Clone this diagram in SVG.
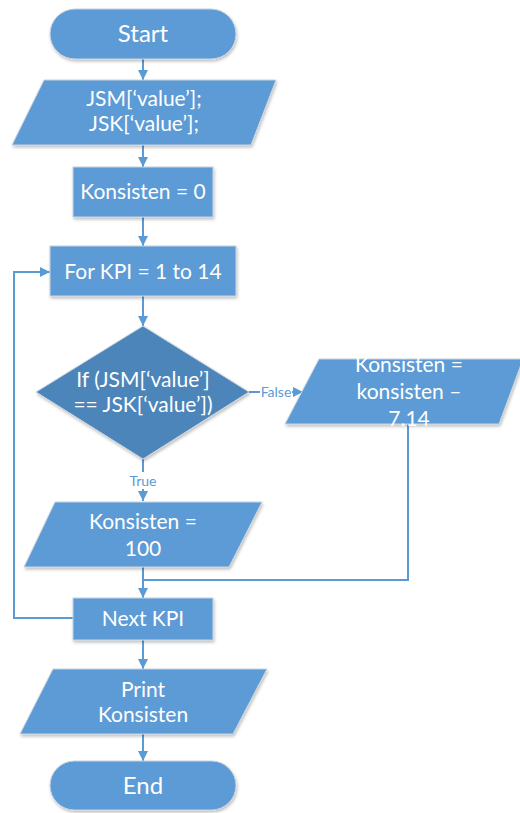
<svg xmlns="http://www.w3.org/2000/svg" width="520" height="813" viewBox="0 0 520 813">
<defs>
<filter id="sh" x="-10%" y="-10%" width="130%" height="140%">
<feDropShadow dx="1" dy="2" stdDeviation="1.5" flood-color="#000" flood-opacity="0.25"/>
</filter>
<marker id="ah" viewBox="0 0 10 10" refX="10" refY="5" markerWidth="10" markerHeight="10" markerUnits="userSpaceOnUse" orient="auto">
<path d="M0,0 L10,5 L0,10 Z" fill="#5b9bd5"/>
</marker>
</defs>
<style>
.s{fill:#5b9bd5;stroke:#c8d3de;stroke-width:1;filter:url(#sh)}
.d{fill:#4c85ba;stroke:#c8d3de;stroke-width:1;filter:url(#sh)}
.t{font-family:Lato,"Open Sans",sans-serif;font-size:21px;fill:#fff;text-anchor:middle}
.big{font-size:24px}
.c{fill:none;stroke:#5b9bd5;stroke-width:2}
.ca{fill:none;stroke:#5b9bd5;stroke-width:2;marker-end:url(#ah)}
.l{font-family:Lato,"Open Sans",sans-serif;font-size:14px;fill:#5b9bd5;text-anchor:middle}
</style>
<rect width="520" height="813" fill="#fff"/>
<g id="connectors">
<line class="ca" x1="143" y1="59" x2="143" y2="80"/>
<line class="ca" x1="143" y1="145" x2="143" y2="167"/>
<line class="ca" x1="143" y1="217" x2="143" y2="246"/>
<line class="ca" x1="143" y1="296" x2="143" y2="326"/>
<line class="c" x1="143" y1="459" x2="143" y2="472"/>
<line class="ca" x1="143" y1="489" x2="143" y2="501"/>
<text class="l" x="143" y="486">True</text>
<line class="c" x1="249" y1="392" x2="260" y2="392"/>
<line class="ca" x1="292" y1="392" x2="303" y2="392"/>
<text class="l" x="276" y="397">False</text>
<line class="ca" x1="143" y1="567" x2="143" y2="598"/>
<polyline class="c" points="408,424 408,580 143,580"/>
<polyline class="ca" points="73,618 14,618 14,272 50,272"/>
<line class="ca" x1="143" y1="640" x2="143" y2="669"/>
<line class="ca" x1="143" y1="734" x2="143" y2="761"/>
</g>
<g id="start">
<rect class="s" x="50" y="9" width="186" height="50" rx="25"/>
<text class="t big" x="143" y="42">Start</text>
</g>
<g id="input">
<polygon class="s" points="44,80 276,80 251,145 12,145"/>
<text class="t" x="144" y="106">JSM[‘value’];</text>
<text class="t" x="144" y="131">JSK[‘value’];</text>
</g>
<g id="init">
<rect class="s" x="73" y="167" width="140" height="50"/>
<text class="t" x="143" y="199">Konsisten = 0</text>
</g>
<g id="for">
<rect class="s" x="50" y="246" width="186" height="50"/>
<text class="t" x="143" y="279">For KPI = 1 to 14</text>
</g>
<g id="decision">
<polygon class="d" points="143,326 249,392 143,459 36,392"/>
<text class="t" x="143" y="387">If (JSM[‘value’]</text>
<text class="t" x="143" y="412">== JSK[‘value’])</text>
</g>
<g id="false-branch">
<polygon class="s" points="319,359 523,359 499,424 285,424"/>
<text class="t" x="409" y="372">Konsisten =</text>
<text class="t" x="409" y="399">konsisten –</text>
<text class="t" x="409" y="426">7.14</text>
</g>
<g id="true-branch">
<polygon class="s" points="55,502 262,502 229,567 24,567"/>
<text class="t" x="143" y="529">Konsisten =</text>
<text class="t" x="143" y="556">100</text>
</g>
<g id="next">
<rect class="s" x="73" y="598" width="140" height="42"/>
<text class="t" x="143" y="626">Next KPI</text>
</g>
<g id="print">
<polygon class="s" points="53,669 267,669 233,734 20,734"/>
<text class="t" x="143" y="697">Print</text>
<text class="t" x="143" y="722">Konsisten</text>
</g>
<g id="end">
<rect class="s" x="50" y="761" width="186" height="49" rx="24.5"/>
<text class="t big" x="143" y="794">End</text>
</g>
</svg>
